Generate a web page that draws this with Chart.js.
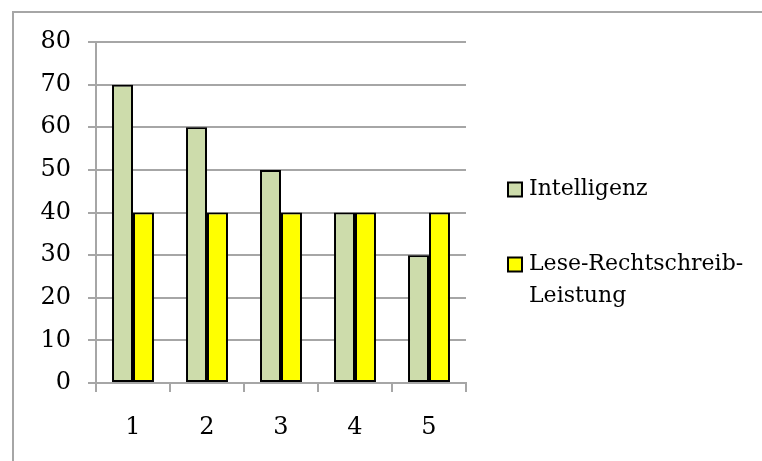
<!DOCTYPE html>
<html>
<head>
<meta charset="utf-8">
<script src="https://cdn.jsdelivr.net/npm/chart.js@4.4.1/dist/chart.umd.min.js"></script>
<style>
  html, body { margin: 0; padding: 0; background: #ffffff; overflow: hidden; }
  canvas { display: block; }
</style>
</head>
<body>
<canvas id="c" width="762" height="461"></canvas>
<script>
const categories = ['1', '2', '3', '4', '5'];
const intelligenz = [70, 60, 50, 40, 30];
const leseRechtschreib = [40, 40, 40, 40, 40];
const seriesNames = ['Intelligenz', 'Lese-Rechtschreib-Leistung'];
const legendLines = [['Intelligenz'], ['Lese-Rechtschreib-', 'Leistung']];
const yTicks = [0, 10, 20, 30, 40, 50, 60, 70, 80];

const FONT = '"DejaVu Serif", "Liberation Serif", serif';

const outerFrame = {
  id: 'outerFrame',
  beforeDraw(chart) {
    const ctx = chart.ctx;
    ctx.save();
    ctx.strokeStyle = '#a6a6a6';
    ctx.lineWidth = 2;
    ctx.beginPath();
    ctx.moveTo(13, chart.height + 5);
    ctx.lineTo(13, 12);
    ctx.lineTo(chart.width + 5, 12);
    ctx.stroke();
    ctx.restore();
  }
};

const customLegend = {
  id: 'customLegend',
  afterDraw(chart) {
    const ctx = chart.ctx;
    const area = chart.chartArea;
    const boxX = area.right + 42;
    const textX = boxX + 21;
    const mid = (area.top + area.bottom) / 2;
    const firstLineY = [mid - 23, mid + 52];
    const lineH = 32;
    ctx.save();
    ctx.font = '22px ' + FONT;
    ctx.textBaseline = 'middle';
    ctx.textAlign = 'left';
    chart.data.datasets.forEach((ds, i) => {
      const cy = firstLineY[i];
      ctx.fillStyle = ds.backgroundColor;
      ctx.fillRect(boxX, cy - 7, 14, 14);
      ctx.lineWidth = 2;
      ctx.strokeStyle = '#000000';
      ctx.strokeRect(boxX, cy - 7, 14, 14);
      ctx.fillStyle = '#000000';
      legendLines[i].forEach((line, j) => {
        ctx.fillText(line, textX, cy + j * lineH);
      });
    });
    ctx.restore();
  }
};

new Chart(document.getElementById('c'), {
  type: 'bar',
  data: {
    labels: categories,
    datasets: [
      {
        label: seriesNames[0],
        data: intelligenz,
        backgroundColor: '#cddcab',
        borderColor: '#000000',
        borderWidth: 2,
        borderSkipped: false
      },
      {
        label: seriesNames[1],
        data: leseRechtschreib,
        backgroundColor: '#ffff00',
        borderColor: '#000000',
        borderWidth: 2,
        borderSkipped: false
      }
    ]
  },
  options: {
    responsive: false,
    animation: false,
    devicePixelRatio: 1,
    layout: { padding: { top: 42, right: 296, left: 0, bottom: 0 } },
    datasets: { bar: { categoryPercentage: 0.567, barPercentage: 1.0 } },
    plugins: {
      legend: { display: false },
      tooltip: { enabled: false }
    },
    scales: {
      x: {
        offset: true,
        grid: { display: true, drawOnChartArea: false, drawTicks: true, offset: true, tickLength: 9, color: '#a6a6a6', lineWidth: 2 },
        border: { display: true, color: '#a6a6a6', width: 2 },
        ticks: { color: '#000000', padding: 21, font: { family: FONT, size: 24 } },
        afterFit(scale) { scale.height = 78; }
      },
      y: {
        min: 0,
        max: 80,
        afterBuildTicks(scale) { scale.ticks = yTicks.map(v => ({ value: v })); },
        grid: { color: '#a6a6a6', lineWidth: 2, tickLength: 8, drawTicks: true },
        border: { display: true, color: '#a6a6a6', width: 2 },
        ticks: { color: '#000000', padding: 17, font: { family: FONT, size: 24 } },
        afterFit(scale) { scale.width = 96; }
      }
    }
  },
  plugins: [outerFrame, customLegend]
});
</script>
</body>
</html>
